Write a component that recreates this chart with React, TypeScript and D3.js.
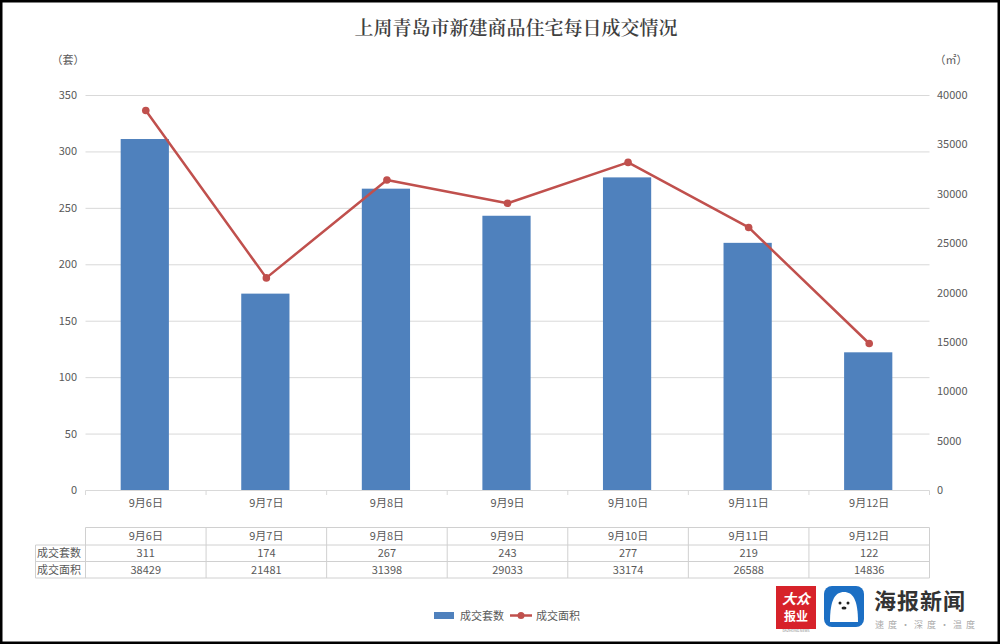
import React from "react";
import * as d3 from "d3";

const categories = ["9月6日", "9月7日", "9月8日", "9月9日", "9月10日", "9月11日", "9月12日"];
const units = [311, 174, 267, 243, 277, 219, 122];
const areas = [38429, 21481, 31398, 29033, 33174, 26588, 14836];
const leftTicks = [0, 50, 100, 150, 200, 250, 300, 350];
const rightTicks = [0, 5000, 10000, 15000, 20000, 25000, 30000, 35000, 40000];
const rowLabels = ["成交套数", "成交面积"];
const title = "上周青岛市新建商品住宅每日成交情况";

const W = 1000, H = 644;
const FONT = "'Noto Sans CJK SC', 'Noto Sans', sans-serif";
const TXT = "#595959";
const GRID = "#d9d9d9";
const BLUE = "#4f81bd";
const RED = "#c0504d";

export default function App() {
  const x = d3.scaleBand<string>().domain(categories).range([85.5, 929.5]).paddingInner(0).paddingOuter(0);
  const yL = d3.scaleLinear().domain([0, 350]).range([490, 95]);
  const yR = d3.scaleLinear().domain([0, 40000]).range([490, 95]);
  const bw = x.bandwidth() * 0.4;
  const line = d3.line<number>().x((_, i) => x(categories[i])! + x.bandwidth() / 2).y((d) => yR(d));

  const tTop = 527.5, r1 = 545, r2 = 561.5, tBot = 578;
  const tLeft = 35.5;
  const edges = categories.map((c) => x(c)!).concat([x.range()[1]]);

  return (
    <div style={{ position: "absolute", left: 0, top: 0 }}>
      <svg width={W} height={H} style={{ display: "block", background: "#fff" }} fontFamily={FONT}>
        <rect x={1.25} y={1.25} width={W - 2.5} height={H - 2.5} fill="#fff" stroke="#000" strokeWidth={2.5} />
        <text x={516} y={35} textAnchor="middle" fontSize={19} fill="#3f3f3f" fontWeight={600} fontFamily="'Noto Serif CJK SC', 'Noto Sans CJK SC', serif">{title}</text>
        <text x={68} y={64} textAnchor="middle" fontSize={11} fill={TXT}>（套）</text>
        <text x={951} y={64} textAnchor="middle" fontSize={11} fill={TXT}>（㎡）</text>

        {leftTicks.map((t) => (
          <g key={"l" + t}>
            {t > 0 && <line x1={85.5} x2={929.5} y1={yL(t) + 0.5} y2={yL(t) + 0.5} stroke={GRID} strokeWidth={1} />}
            <text x={77} y={yL(t) + 4} textAnchor="end" fontSize={11} fill={TXT}>{t}</text>
          </g>
        ))}
        {rightTicks.map((t) => (
          <text key={"r" + t} x={937} y={yR(t) + 4} textAnchor="start" fontSize={11} fill={TXT}>{t}</text>
        ))}

        {categories.map((c, i) => (
          <rect key={c} x={x(c)! + x.bandwidth() / 2 - bw / 2 - 1} y={yL(units[i])} width={bw} height={yL(0) - yL(units[i])} fill={BLUE} />
        ))}

        <line x1={85.5} x2={929.5} y1={490.5} y2={490.5} stroke={GRID} strokeWidth={1} />
        {edges.map((e, i) => (
          <line key={"tk" + i} x1={e} x2={e} y1={490.5} y2={495} stroke={GRID} />
        ))}
        {categories.map((c) => (
          <text key={"xl" + c} x={x(c)! + x.bandwidth() / 2} y={507} textAnchor="middle" fontSize={11} fill={TXT}>{c}</text>
        ))}

        <path d={line(areas)!} fill="none" stroke={RED} strokeWidth={2.5} strokeLinejoin="round" />
        {areas.map((a, i) => (
          <circle key={"m" + i} cx={x(categories[i])! + x.bandwidth() / 2} cy={yR(a)} r={3.8} fill={RED} />
        ))}

        {/* data table */}
        <g stroke="#d0d0d0" strokeWidth={1}>
          <line x1={85.5} x2={929.5} y1={tTop} y2={tTop} />
          <line x1={tLeft} x2={929.5} y1={r1} y2={r1} />
          <line x1={tLeft} x2={929.5} y1={r2} y2={r2} />
          <line x1={tLeft} x2={929.5} y1={tBot} y2={tBot} />
          <line x1={tLeft} x2={tLeft} y1={r1} y2={tBot} />
          {edges.map((e, i) => (
            <line key={"tv" + i} x1={e} x2={e} y1={tTop} y2={tBot} />
          ))}
        </g>
        {categories.map((c, i) => {
          const cx = x(c)! + x.bandwidth() / 2;
          return (
            <g key={"tb" + c}>
              <text x={cx} y={(tTop + r1) / 2 + 4} textAnchor="middle" fontSize={11} fill={TXT}>{c}</text>
              <text x={cx} y={(r1 + r2) / 2 + 4} textAnchor="middle" fontSize={11} fill={TXT}>{units[i]}</text>
              <text x={cx} y={(r2 + tBot) / 2 + 4} textAnchor="middle" fontSize={11} fill={TXT}>{areas[i]}</text>
            </g>
          );
        })}
        {rowLabels.map((l, i) => (
          <text key={l} x={37} y={(i === 0 ? (r1 + r2) / 2 : (r2 + tBot) / 2) + 4} fontSize={11} fill={TXT}>{l}</text>
        ))}

        {/* legend */}
        <rect x={434} y={612} width={20} height={7} fill={BLUE} />
        <text x={460} y={620} fontSize={11} fill={TXT}>成交套数</text>
        <line x1={510} x2={532} y1={615.5} y2={615.5} stroke={RED} strokeWidth={2.5} />
        <circle cx={521} cy={615.5} r={3.5} fill={RED} />
        <text x={536} y={620} fontSize={11} fill={TXT}>成交面积</text>

        {/* logos */}
        <g>
          <rect x={776} y={586} width={40} height={43} fill="#d7222a" />
          <text x={796} y={604} textAnchor="middle" fontSize={14} fontWeight="bold" fill="#fff" fontStyle="italic">大众</text>
          <text x={796} y={621} textAnchor="middle" fontSize={12} fontWeight="bold" fill="#fff">报业</text>
          <text x={796} y={632} textAnchor="middle" fontSize={3.5} fill="#888">DAZHONG NEWS</text>
          <rect x={824} y={586} width={40} height={41} rx={8} fill="#1c6fc4" />
          <path d="M830,622 C830,600 835,592 844,592 C853,592 858,600 858,622 Z" fill="#fff" />
          <circle cx={840} cy={603} r={1.5} fill="#222" />
          <circle cx={848} cy={603} r={1.5} fill="#222" />
          <ellipse cx={844} cy={608} rx={2.5} ry={1.5} fill="#222" />
          <text x={874} y={609} fontSize={22} fontWeight="bold" fill="#333" letterSpacing={1}>海报新闻</text>
          <text x={875} y={628} fontSize={9} fill="#aaa" letterSpacing={4}>速度·深度·温度</text>
        </g>
      </svg>
    </div>
  );
}
